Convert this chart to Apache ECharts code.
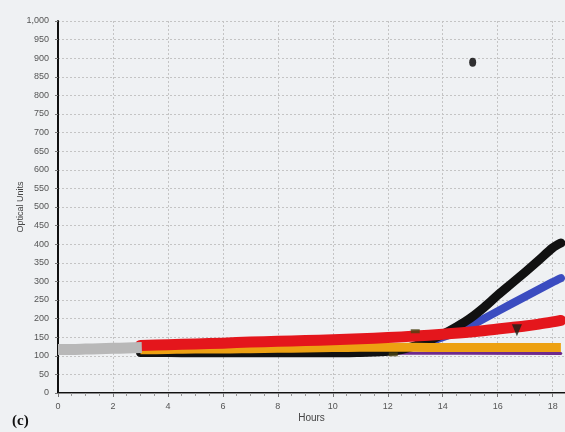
<!DOCTYPE html>
<html>
<head>
<meta charset="utf-8">
<script src="https://cdn.jsdelivr.net/npm/echarts@6/dist/echarts.min.js"></script>
<style>
html,body{margin:0;padding:0;background:#eff1f3;}
#c{width:565px;height:432px;}
</style>
</head>
<body>
<div id="c"></div>
<script>
// ---- data (hours, optical units) ----
var greyHours = [0, 0.5, 1, 1.5, 2, 2.5, 3.05];
var greyVals  = [117, 117, 118, 119, 120, 121, 122];

var redHours = [3, 4, 5, 6, 7, 8, 9, 10, 11, 12, 13, 14, 15, 16, 16.5, 17, 17.5, 18, 18.3];
var redVals  = [128, 130, 132, 134, 137, 139, 141, 143, 146, 149, 153, 158, 164, 172, 176, 180, 185, 191, 195];

var orangeHours = [3, 4, 5, 6, 7, 8, 9, 10, 11, 12, 13, 14, 16, 18.3];
var orangeVals  = [116, 117, 118, 118, 119, 120, 121, 122, 123, 123, 123, 122, 122, 122];

var blackHours = [3, 4, 5, 6, 7, 8, 9, 10, 11, 11.5, 12, 12.5, 13, 13.5, 14, 14.5, 15, 15.5, 16, 16.5, 17, 17.5, 18, 18.3];
var blackVals  = [109, 109, 108, 108, 108, 108, 108, 108, 109, 110, 112, 117, 127, 141, 158, 178, 201, 230, 263, 294, 325, 357, 390, 403];

var blueHours = [12.5, 13, 13.5, 14, 14.5, 15, 16, 17, 18, 18.3];
var blueVals  = [118, 126, 137, 150, 164, 180, 220, 259, 298, 309];

var purpleHours = [3, 8, 12, 18.3];
var purpleVals  = [106, 106, 107, 106];

var dotPoint      = [15.09, 889];
var trianglePoint = [16.7, 169];
var olivePoints   = [[13.0, 166], [12.2, 104]];

var yTicks = [0, 1000, 50];
var xTicks = [0, 18.45, 2];

function pairs(h, v) { return h.map(function (x, i) { return [x, v[i]]; }); }

var chart = echarts.init(document.getElementById('c'), null, {renderer: 'canvas'});

function band(name, h, v, color, width, z, cap) {
  return {
    name: name, type: 'line', data: pairs(h, v), smooth: 0.3,
    showSymbol: false, symbol: 'none', z: z,
    lineStyle: {color: color, width: width, cap: cap || 'round', join: 'round'},
    silent: true, animation: false
  };
}

var option = {
  backgroundColor: '#eff1f3',
  animation: false,
  grid: {left: 58, right: 0, top: 21, bottom: 39, containLabel: false},
  xAxis: [{
    type: 'value', min: xTicks[0], max: xTicks[1], interval: xTicks[2],
    name: 'Hours', nameLocation: 'middle', nameGap: 20, nameMoveOverlap: false,
    nameTextStyle: {color: '#444', fontSize: 10, fontFamily: 'Liberation Sans'},
    axisLine: {show: true, onZero: false, lineStyle: {color: '#111', width: 2}},
    axisTick: {show: true, length: 4, lineStyle: {color: '#777'}},
    minorTick: {show: true, splitNumber: 4, length: 3, lineStyle: {color: '#999'}},
    axisLabel: {color: '#555', fontSize: 9, margin: 9, fontFamily: 'Liberation Sans', showMaxLabel: false},
    splitLine: {show: true, lineStyle: {color: '#c4c4c4', type: [2, 2], width: 1}}
  }, {
    type: 'value', position: 'top', min: xTicks[0], max: xTicks[1], interval: xTicks[2],
    axisLine: {show: true, lineStyle: {color: '#8a8a8a', width: 1}},
    axisTick: {show: false}, axisLabel: {show: false}, splitLine: {show: false}
  }],
  yAxis: {
    type: 'value', min: yTicks[0], max: yTicks[1], interval: yTicks[2], offset: 3,
    name: 'Optical Units', nameLocation: 'middle', nameGap: 30, nameMoveOverlap: false,
    nameTextStyle: {color: '#444', fontSize: 9, fontFamily: 'Liberation Sans'},
    axisLine: {show: true, lineStyle: {color: '#111', width: 2}},
    axisTick: {show: true, length: 3, lineStyle: {color: '#777'}},
    axisLabel: {color: '#555', fontSize: 9, margin: 6, fontFamily: 'Liberation Sans',
      formatter: function (v) { return v >= 1000 ? '1,000' : String(v); }},
    splitLine: {show: true, lineStyle: {color: '#c4c4c4', type: [2, 2], width: 1}}
  },
  series: [
    band('purple', purpleHours, purpleVals, '#6e2a8c', 3, 1),
    band('blue', blueHours, blueVals, '#3b4cc0', 8, 2),
    band('black', blackHours, blackVals, '#111111', 9, 3),
    band('orange', orangeHours, orangeVals, '#eda112', 9, 4, 'butt'),
    band('red', redHours, redVals, '#e4161c', 11, 5),
    band('grey', greyHours, greyVals, '#b8b8b8', 11, 6, 'butt'),
    {type: 'scatter', data: [dotPoint], symbol: 'circle', symbolSize: [7, 9], z: 10,
      itemStyle: {color: '#000000'}, silent: true},
    {type: 'scatter', data: [trianglePoint], symbol: 'triangle', symbolRotate: 180, symbolSize: [10, 12], z: 10,
      itemStyle: {color: '#142016'}, silent: true},
    {type: 'scatter', data: olivePoints, symbol: 'rect', symbolSize: [9, 4], z: 9,
      itemStyle: {color: '#4a4212'}, silent: true}
  ],
  graphic: [{
    type: 'text', left: 12, top: 414,
    style: {text: '(c)', font: 'bold 15px "Liberation Serif"', fill: '#111'}
  }]
};
chart.setOption(option);
</script>
</body>
</html>
